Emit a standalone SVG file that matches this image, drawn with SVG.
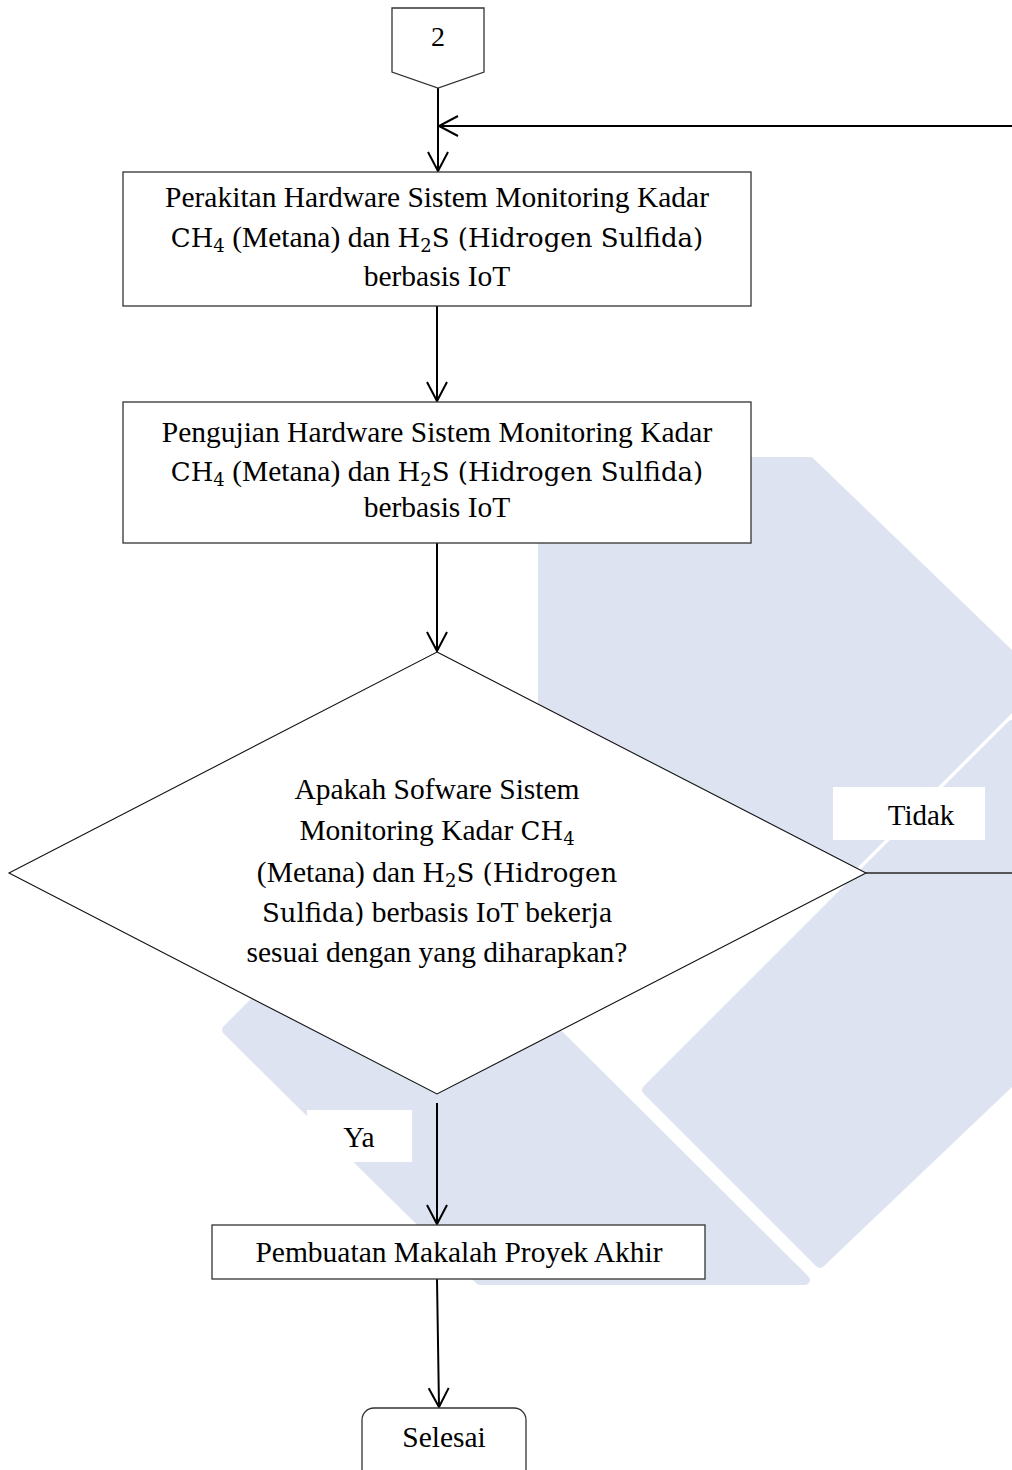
<svg xmlns="http://www.w3.org/2000/svg" width="1012" height="1470" viewBox="0 0 1012 1470">
<style>
.wm{fill:#dde3f0;stroke:#dde3f0;stroke-width:10;stroke-linejoin:round}
.box{fill:#fff;stroke:#333;stroke-width:1.3}
.dia{fill:#fff;stroke:#111;stroke-width:1.1}
.t{font-family:"Liberation Serif","Times New Roman",serif;font-size:29.5px;fill:#000;text-anchor:middle}
.m{font-family:"DejaVu Serif","Liberation Serif",serif;font-size:26px}
.sub{font-size:18px}
.con{fill:none;stroke:#000;stroke-width:2}
.lbl{fill:#fff;stroke:none}
</style>
<defs>
<marker id="arr" markerUnits="userSpaceOnUse" markerWidth="26" markerHeight="26" viewBox="-2 -13 24 26" refX="19" refY="0" orient="auto">
<path d="M0,-10 L19,0 L0,10" fill="none" stroke="#000" stroke-width="2"/>
</marker>
</defs>
<rect width="1012" height="1470" fill="#fff"/>
<g id="watermark">
<polygon class="wm" points="543,462 810,462 1012,657 1012,706 850,868 600,860 543,760"/>
<polygon class="wm" points="647,1090 1012,725 1012,1080 820,1263"/>
<polygon class="wm" points="227,1030 390,867 805,1280 480,1280"/>
</g>
<g id="connectors">
<line class="con" x1="438" y1="88" x2="438" y2="171" marker-end="url(#arr)"/>
<line class="con" x1="1012" y1="126" x2="439" y2="126" marker-end="url(#arr)"/>
<line class="con" x1="437" y1="306" x2="437" y2="401" marker-end="url(#arr)"/>
<line class="con" x1="437" y1="543" x2="437" y2="651" marker-end="url(#arr)"/>
<line x1="866" y1="873" x2="1012" y2="873" stroke="#555" stroke-width="1.8"/>
<line class="con" x1="437" y1="1103" x2="437" y2="1224" marker-end="url(#arr)"/>
<line class="con" x1="437" y1="1279" x2="439" y2="1407" marker-end="url(#arr)"/>
</g>
<g id="n-connector2">
<polygon class="box" points="392,8 484,8 484,72 438,88 392,72"/>
<text class="t" x="438" y="46" style="font-size:28px">2</text>
</g>
<g id="n-perakitan">
<rect class="box" x="123" y="172" width="628" height="134"/>
<text class="t" x="437" y="207">Perakitan Hardware Sistem Monitoring Kadar</text>
<text class="t" x="437" y="247"><tspan class="m">CH<tspan class="sub" dy="5">4</tspan></tspan><tspan dy="-5"> (Metana) dan </tspan><tspan class="m">H<tspan class="sub" dy="5">2</tspan><tspan dy="-5">S (Hidrogen Sulfida)</tspan></tspan></text>
<text class="t" x="437" y="286">berbasis IoT</text>
</g>
<g id="n-pengujian">
<rect class="box" x="123" y="402" width="628" height="141"/>
<text class="t" x="437" y="442">Pengujian Hardware Sistem Monitoring Kadar</text>
<text class="t" x="437" y="481"><tspan class="m">CH<tspan class="sub" dy="5">4</tspan></tspan><tspan dy="-5"> (Metana) dan </tspan><tspan class="m">H<tspan class="sub" dy="5">2</tspan><tspan dy="-5">S (Hidrogen Sulfida)</tspan></tspan></text>
<text class="t" x="437" y="517">berbasis IoT</text>
</g>
<g id="n-decision">
<polygon class="dia" points="437,652 866,873 437,1094 9,873"/>
<text class="t" x="437" y="799">Apakah Sofware Sistem</text>
<text class="t" x="437" y="840">Monitoring Kadar <tspan class="m">CH<tspan class="sub" dy="5">4</tspan></tspan></text>
<text class="t" x="437" y="882">(Metana) dan <tspan class="m">H<tspan class="sub" dy="5">2</tspan><tspan dy="-5">S (Hidrogen</tspan></tspan></text>
<text class="t" x="437" y="922"><tspan class="m">Sulfida)</tspan> berbasis IoT bekerja</text>
<text class="t" x="437" y="962">sesuai dengan yang diharapkan?</text>
</g>
<g id="l-tidak">
<rect class="lbl" x="833" y="787" width="152" height="53"/>
<text class="t" x="921" y="825" style="font-size:29px">Tidak</text>
</g>
<g id="l-ya">
<rect class="lbl" x="307" y="1110" width="105" height="52"/>
<text class="t" x="359" y="1147">Ya</text>
</g>
<g id="n-makalah">
<rect class="box" x="212" y="1225" width="493" height="54"/>
<text class="t" x="459" y="1262">Pembuatan Makalah Proyek Akhir</text>
</g>
<g id="n-selesai">
<rect class="box" x="362" y="1408" width="164" height="90" rx="12" ry="12"/>
<text class="t" x="444" y="1447">Selesai</text>
</g>
</svg>
